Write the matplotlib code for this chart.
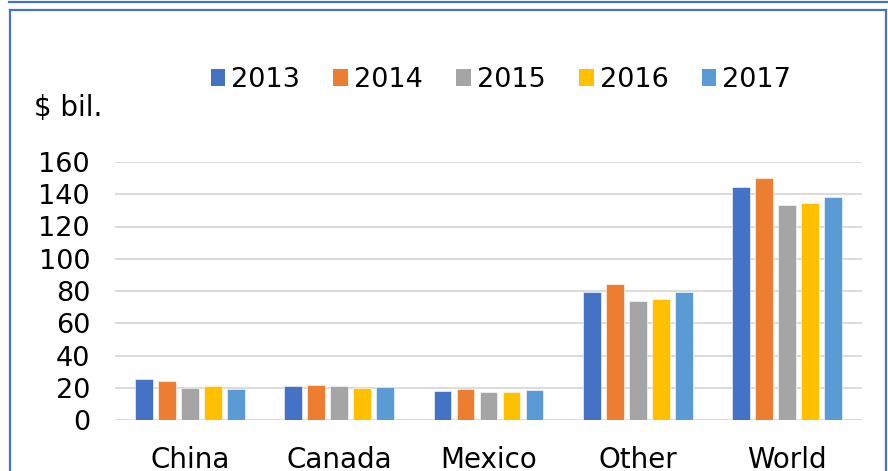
import matplotlib
matplotlib.use("Agg")
import matplotlib.pyplot as plt
from matplotlib.patches import Patch
from matplotlib.lines import Line2D
import numpy as np

plt.rcParams['font.family'] = ['DejaVu Sans']

categories = ["China", "Canada", "Mexico", "Other", "World"]
years = ["2013", "2014", "2015", "2016", "2017"]
values = {
    "2013": [25.3, 21.2, 17.9, 79.1, 144.2],
    "2014": [24.2, 21.9, 19.0, 84.3, 149.8],
    "2015": [20.0, 20.8, 17.5, 74.0, 133.1],
    "2016": [21.2, 20.0, 17.5, 75.2, 134.5],
    "2017": [19.4, 20.4, 18.3, 79.5, 138.2],
}
colors = ["#4472C4", "#ED7D31", "#A5A5A5", "#FFC000", "#5B9BD5"]
yticks = [0, 20, 40, 60, 80, 100, 120, 140, 160]
ylabel = "$ bil."

W, H = 888, 471
fig = plt.figure(figsize=(W / 100, H / 100), dpi=100)
fig.patch.set_facecolor("white")

ax = fig.add_axes([115 / W, (H - 420) / H, (862 - 115) / W, (420 - 162) / H])
x = np.arange(len(categories))
slot = 0.154
bw = 0.12
for j, (yr, c) in enumerate(zip(years, colors)):
    ax.bar(x + (j - 2) * slot, values[yr], width=bw, color=c,
           edgecolor="white", linewidth=0.4, zorder=3)

ax.set_xlim(-0.5, len(categories) - 0.5)
ax.set_ylim(0, 160)
ax.set_yticks(yticks)
ax.set_yticklabels([str(v) for v in yticks], fontsize=19.5, color="#000000")
ax.set_xticks(x)
ax.set_xticklabels(categories, fontsize=20, color="#000000")
ax.tick_params(axis="y", length=0, pad=18)
ax.tick_params(axis="x", length=0, pad=19)
ax.grid(axis="y", color="#D9D9D9", linewidth=1.3, zorder=0)
for s in ax.spines.values():
    s.set_visible(False)
ax.set_axisbelow(True)

fig.text(34 / W, 1 - 108 / H, ylabel, fontsize=20, ha="left", va="center")

handles = [Patch(facecolor=c, edgecolor="none") for c in colors]
fig.legend(handles, years, loc="center", bbox_to_anchor=(501 / W, 1 - 80 / H),
           ncol=5, frameon=False, fontsize=19.5, handlelength=0.55,
           handleheight=0.55, handletextpad=0.22, columnspacing=1.22,
           borderaxespad=0, borderpad=0)

# frame decorations
blue = "#4472C4"
fig.add_artist(Line2D([9 / W, 887 / W], [1 - 2 / H, 1 - 2 / H], color=blue, lw=1.6, transform=fig.transFigure))
fig.add_artist(Line2D([10 / W, 886 / W], [1 - 10 / H, 1 - 10 / H], color=blue, lw=1.6, transform=fig.transFigure))
fig.add_artist(Line2D([10 / W, 10 / W], [0, 1 - 10 / H], color=blue, lw=1.6, transform=fig.transFigure))
fig.add_artist(Line2D([886 / W, 886 / W], [0, 1 - 10 / H], color=blue, lw=1.6, transform=fig.transFigure))

fig.savefig("out.png", dpi=100)
